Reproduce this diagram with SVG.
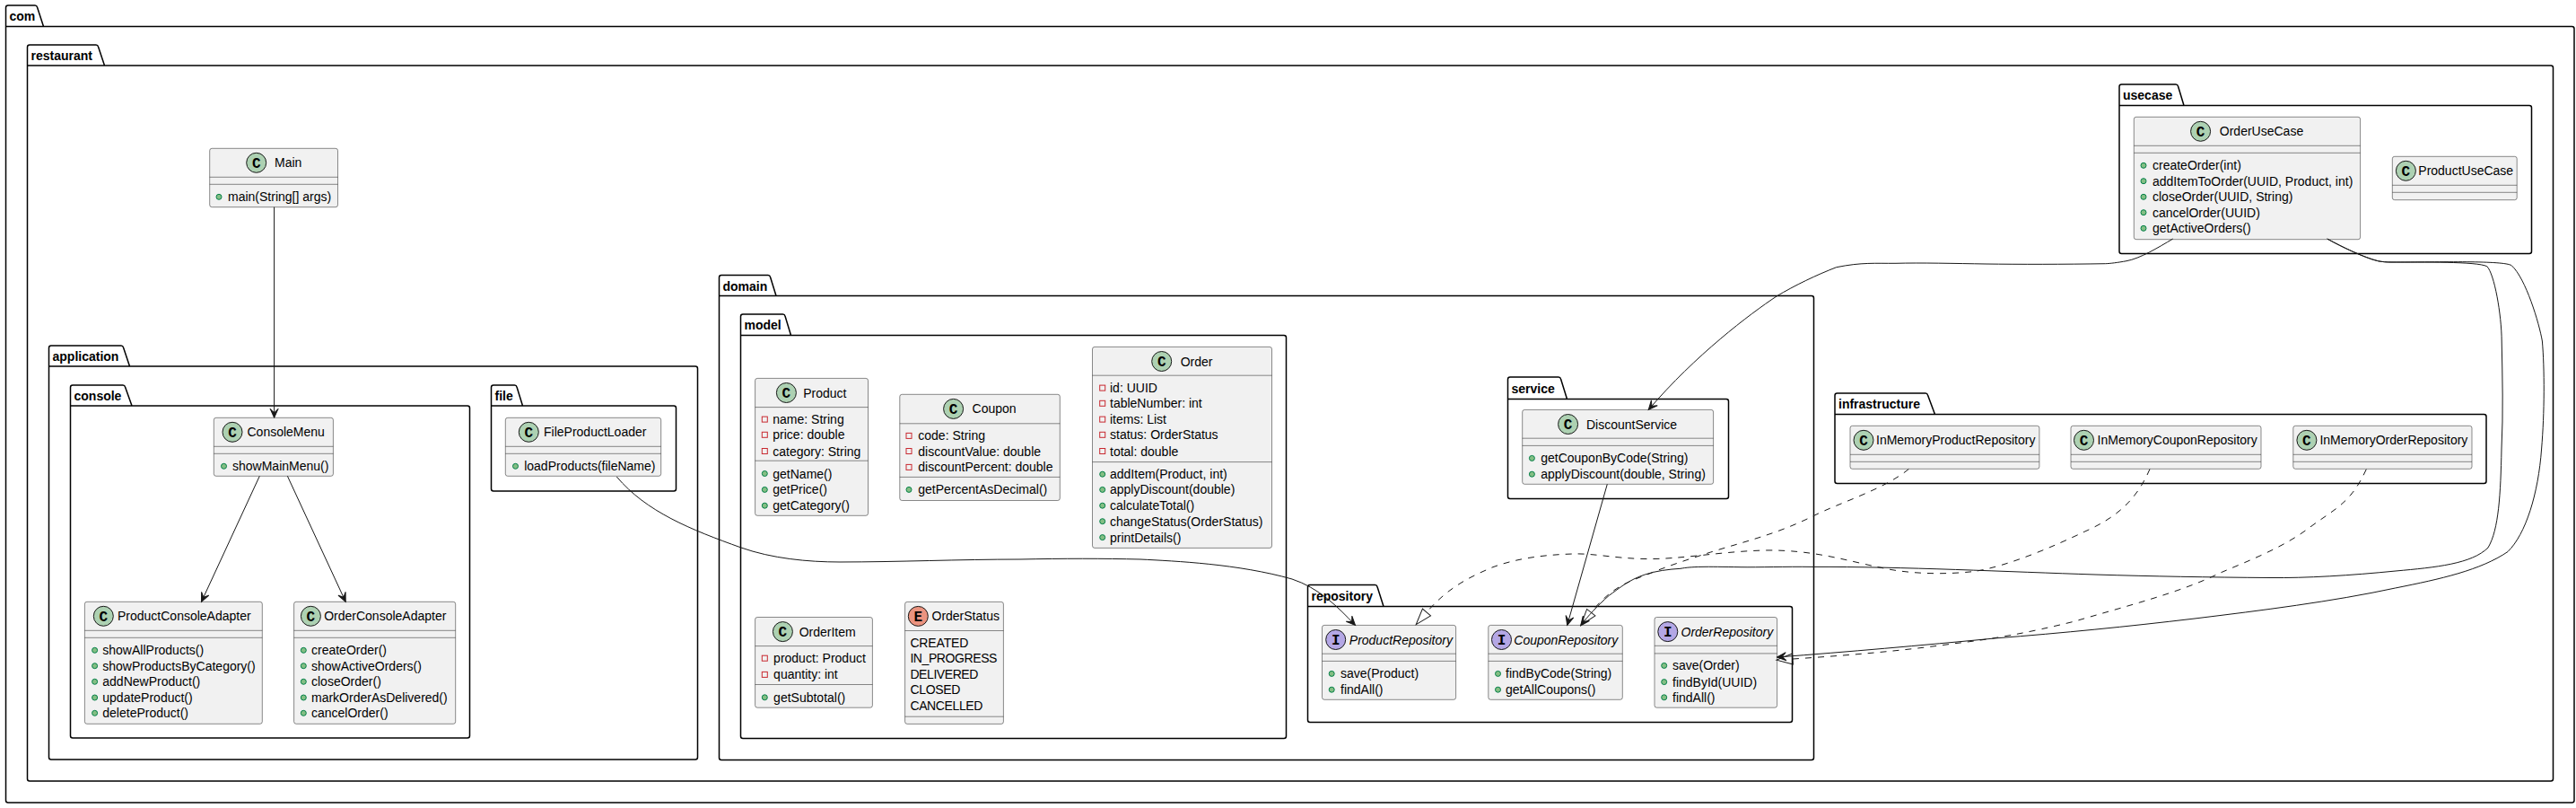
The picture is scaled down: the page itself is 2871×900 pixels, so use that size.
<svg xmlns="http://www.w3.org/2000/svg" width="2871" height="900" viewBox="0 0 2871 900">
<style>
text{font-family:"Liberation Sans",Arial,sans-serif;font-size:14px;fill:#000}
.p{fill:none;stroke:#000;stroke-width:1.5}
.pt{font-weight:700}
.b{fill:#F1F1F1;stroke:#181818;stroke-width:.5}
.s{stroke:#181818;stroke-width:.5}
.sc{fill:#ADD1B2;stroke:#181818;stroke-width:1}
.se{fill:#EB937F;stroke:#181818;stroke-width:1}
.si{fill:#B4A7E5;stroke:#181818;stroke-width:1}
.l{font-family:"Liberation Mono",monospace;font-weight:700;font-size:16px;text-anchor:middle}
.m{fill:#84BE84;stroke:#038048;stroke-width:1}
.f{fill:none;stroke:#C82930;stroke-width:1}
.i{font-style:italic}
.c{fill:none;stroke:#181818;stroke-width:1}
.d{stroke-dasharray:7,7}
.a{marker-end:url(#arrow)}
.h{marker-end:url(#tri)}
</style>
<defs>
<marker id="arrow" markerUnits="userSpaceOnUse" markerWidth="12" markerHeight="12" refX="10" refY="5" orient="auto" overflow="visible"><path d="M10,5 L0,0.5 L4.5,5 L0,9.5 Z" fill="#181818" stroke="#181818" stroke-width="1"/></marker>
<marker id="tri" markerUnits="userSpaceOnUse" markerWidth="20" markerHeight="14" refX="0" refY="6" orient="auto" overflow="visible"><path d="M0,0 L18,6 L0,12 Z" fill="none" stroke="#181818" stroke-width="1"/></marker>
</defs>
<rect width="2871" height="900" fill="#fff"/>
<g id="pkg-com"><path class="p" d="M6.5,8.5 Q6.5,6 9,6 H39 Q41,6 41.5,8 L48.5,29.5 H2866.5 Q2869,29.5 2869,32 V891.5 Q2869,894 2866.5,894 H9 Q6.5,894 6.5,891.5 Z M6.5,29.5 H48.5"/><text class="pt" x="10.5" y="23">com</text></g>
<g id="pkg-restaurant"><path class="p" d="M30.5,52.5 Q30.5,50 33,50 H107 Q109,50 109.5,52 L116.5,73 H2843 Q2845.5,73 2845.5,75.5 V867.5 Q2845.5,870 2843,870 H33 Q30.5,870 30.5,867.5 Z M30.5,73 H116.5"/><text class="pt" x="34.5" y="67">restaurant</text></g>
<g id="pkg-application"><path class="p" d="M54.5,387.5 Q54.5,385 57,385 H135 Q137,385 137.5,387 L144.5,408 H775 Q777.5,408 777.5,410.5 V843.5 Q777.5,846 775,846 H57 Q54.5,846 54.5,843.5 Z M54.5,408 H144.5"/><text class="pt" x="58.5" y="402">application</text></g>
<g id="pkg-console"><path class="p" d="M78.5,431.5 Q78.5,429 81,429 H137 Q139,429 139.5,431 L147,452 H521 Q523.5,452 523.5,454.5 V819.5 Q523.5,822 521,822 H81 Q78.5,822 78.5,819.5 Z M78.5,452 H147"/><text class="pt" x="82.5" y="446">console</text></g>
<g id="pkg-file"><path class="p" d="M547.5,431.5 Q547.5,429 550,429 H573.5 Q575.5,429 576,431 L582.5,452 H751 Q753.5,452 753.5,454.5 V544.5 Q753.5,547 751,547 H550 Q547.5,547 547.5,544.5 Z M547.5,452 H582.5"/><text class="pt" x="551.5" y="446">file</text></g>
<g id="pkg-domain"><path class="p" d="M801.5,309 Q801.5,306.5 804,306.5 H856 Q858,306.5 858.5,308.5 L865,329.5 H2019 Q2021.5,329.5 2021.5,332 V844 Q2021.5,846.5 2019,846.5 H804 Q801.5,846.5 801.5,844 Z M801.5,329.5 H865"/><text class="pt" x="805.5" y="323.5">domain</text></g>
<g id="pkg-model"><path class="p" d="M825.5,352.5 Q825.5,350 828,350 H872.5 Q874.5,350 875,352 L881.5,373.5 H1431 Q1433.5,373.5 1433.5,376 V820 Q1433.5,822.5 1431,822.5 H828 Q825.5,822.5 825.5,820 Z M825.5,373.5 H881.5"/><text class="pt" x="829.5" y="367">model</text></g>
<g id="pkg-service"><path class="p" d="M1680.5,422.5 Q1680.5,420 1683,420 H1737 Q1739,420 1739.5,422 L1746.5,444.5 H1924 Q1926.5,444.5 1926.5,447 V553 Q1926.5,555.5 1924,555.5 H1683 Q1680.5,555.5 1680.5,553 Z M1680.5,444.5 H1746.5"/><text class="pt" x="1684.5" y="437.5">service</text></g>
<g id="pkg-repository"><path class="p" d="M1457.5,654 Q1457.5,651.5 1460,651.5 H1532.5 Q1534.5,651.5 1535,653.5 L1542,675.5 H1995 Q1997.5,675.5 1997.5,678 V802 Q1997.5,804.5 1995,804.5 H1460 Q1457.5,804.5 1457.5,802 Z M1457.5,675.5 H1542"/><text class="pt" x="1461.5" y="669">repository</text></g>
<g id="pkg-usecase"><path class="p" d="M2362,96.5 Q2362,94 2364.5,94 H2425 Q2427,94 2427.5,96 L2434,117.5 H2819 Q2821.5,117.5 2821.5,120 V280 Q2821.5,282.5 2819,282.5 H2364.5 Q2362,282.5 2362,280 Z M2362,117.5 H2434"/><text class="pt" x="2366" y="111">usecase</text></g>
<g id="pkg-infrastructure"><path class="p" d="M2045,440.5 Q2045,438 2047.5,438 H2146 Q2148,438 2148.5,440 L2156.5,461.5 H2768.5 Q2771,461.5 2771,464 V536 Q2771,538.5 2768.5,538.5 H2047.5 Q2045,538.5 2045,536 Z M2045,461.5 H2156.5"/><text class="pt" x="2049" y="455">infrastructure</text></g>

<g id="Main"><rect class="b" x="233.7" y="165.3" width="142.8" height="65.4" rx="2.5"/><path class="s" d="M233.7,197.3 H376.5 M233.7,205.3 H376.5"/><circle class="sc" cx="285.7" cy="181.3" r="11"/><text class="l" x="285.7" y="186.5">C</text><text x="306" y="186">Main</text><circle class="m" cx="244" cy="219.3" r="3"/><text x="254" y="224.3">main(String[] args)</text></g>
<g id="ConsoleMenu"><rect class="b" x="238.3" y="465.3" width="133.1" height="65" rx="2.5"/><path class="s" d="M238.3,497.3 H371.4 M238.3,505.3 H371.4"/><circle class="sc" cx="259" cy="481.3" r="11"/><text class="l" x="259" y="486.5">C</text><text x="275.5" y="486">ConsoleMenu</text><circle class="m" cx="249.5" cy="519.3" r="3"/><text x="259" y="524.3">showMainMenu()</text></g>
<g id="ProductConsoleAdapter"><rect class="b" x="94.4" y="670.3" width="197.9" height="136" rx="2.5"/><path class="s" d="M94.4,702.3 H292.3 M94.4,710.3 H292.3"/><circle class="sc" cx="115.3" cy="686.3" r="11"/><text class="l" x="115.3" y="691.5">C</text><text x="131" y="691">ProductConsoleAdapter</text>
<circle class="m" cx="105.6" cy="724.3" r="3"/><text x="114.3" y="729.3">showAllProducts()</text><circle class="m" cx="105.6" cy="741.7" r="3"/><text x="114.3" y="746.7">showProductsByCategory()</text><circle class="m" cx="105.6" cy="759.3" r="3"/><text x="114.3" y="764.3">addNewProduct()</text><circle class="m" cx="105.6" cy="777" r="3"/><text x="114.3" y="782">updateProduct()</text><circle class="m" cx="105.6" cy="794.3" r="3"/><text x="114.3" y="799.3">deleteProduct()</text></g>
<g id="OrderConsoleAdapter"><rect class="b" x="327.6" y="670.3" width="180.1" height="136" rx="2.5"/><path class="s" d="M327.6,702.3 H507.7 M327.6,710.3 H507.7"/><circle class="sc" cx="346.4" cy="686.3" r="11"/><text class="l" x="346.4" y="691.5">C</text><text x="361.2" y="691">OrderConsoleAdapter</text>
<circle class="m" cx="338.3" cy="724.3" r="3"/><text x="347" y="729.3">createOrder()</text><circle class="m" cx="338.3" cy="741.7" r="3"/><text x="347" y="746.7">showActiveOrders()</text><circle class="m" cx="338.3" cy="759.3" r="3"/><text x="347" y="764.3">closeOrder()</text><circle class="m" cx="338.3" cy="777" r="3"/><text x="347" y="782">markOrderAsDelivered()</text><circle class="m" cx="338.3" cy="794.3" r="3"/><text x="347" y="799.3">cancelOrder()</text></g>
<g id="FileProductLoader"><rect class="b" x="563.3" y="465.3" width="173.4" height="65" rx="2.5"/><path class="s" d="M563.3,497.3 H736.7 M563.3,505.3 H736.7"/><circle class="sc" cx="589.3" cy="481.3" r="11"/><text class="l" x="589.3" y="486.5">C</text><text x="606" y="486">FileProductLoader</text><circle class="m" cx="574.5" cy="519.3" r="3"/><text x="584.2" y="524.3">loadProducts(fileName)</text></g>

<g id="Product"><rect class="b" x="841.6" y="421.4" width="125.9" height="152.9" rx="2.5"/><path class="s" d="M841.6,453.6 H967.5 M841.6,513.2 H967.5"/><circle class="sc" cx="876.4" cy="437.5" r="11"/><text class="l" x="876.4" y="442.7">C</text><text x="895.2" y="442.5">Product</text>
<rect class="f" x="849.3" y="464.1" width="6" height="6"/><text x="861.3" y="472.1">name: String</text><rect class="f" x="849.3" y="481.3" width="6" height="6"/><text x="861.3" y="489.3">price: double</text><rect class="f" x="849.3" y="499.5" width="6" height="6"/><text x="861.3" y="507.5">category: String</text>
<circle class="m" cx="852.3" cy="527.5" r="3"/><text x="861.3" y="532.5">getName()</text><circle class="m" cx="852.3" cy="545.4" r="3"/><text x="861.3" y="550.4">getPrice()</text><circle class="m" cx="852.3" cy="563.2" r="3"/><text x="861.3" y="568.2">getCategory()</text></g>
<g id="Coupon"><rect class="b" x="1002.8" y="439.3" width="178.5" height="118.2" rx="2.5"/><path class="s" d="M1002.8,471.8 H1181.3 M1002.8,531.4 H1181.3"/><circle class="sc" cx="1062.6" cy="455.4" r="11"/><text class="l" x="1062.6" y="460.6">C</text><text x="1083.6" y="460.4">Coupon</text>
<rect class="f" x="1010" y="482.4" width="6" height="6"/><text x="1023.3" y="490.4">code: String</text><rect class="f" x="1010" y="499.5" width="6" height="6"/><text x="1023.3" y="507.5">discountValue: double</text><rect class="f" x="1010" y="517.4" width="6" height="6"/><text x="1023.3" y="525.4">discountPercent: double</text>
<circle class="m" cx="1013" cy="545.4" r="3"/><text x="1023.3" y="550.4">getPercentAsDecimal()</text></g>
<g id="Order"><rect class="b" x="1217.5" y="386.4" width="200" height="224" rx="2.5"/><path class="s" d="M1217.5,418.2 H1417.5 M1217.5,514.6 H1417.5"/><circle class="sc" cx="1294.7" cy="402.5" r="11"/><text class="l" x="1294.7" y="407.7">C</text><text x="1315.7" y="407.5">Order</text>
<rect class="f" x="1225.7" y="429.1" width="6" height="6"/><text x="1237" y="437.1">id: UUID</text><rect class="f" x="1225.7" y="446.3" width="6" height="6"/><text x="1237" y="454.3">tableNumber: int</text><rect class="f" x="1225.7" y="464.1" width="6" height="6"/><text x="1237" y="472.1">items: List</text><rect class="f" x="1225.7" y="481.3" width="6" height="6"/><text x="1237" y="489.3">status: OrderStatus</text><rect class="f" x="1225.7" y="499.5" width="6" height="6"/><text x="1237" y="507.5">total: double</text>
<circle class="m" cx="1228.7" cy="528.2" r="3"/><text x="1237" y="533.2">addItem(Product, int)</text><circle class="m" cx="1228.7" cy="545.4" r="3"/><text x="1237" y="550.4">applyDiscount(double)</text><circle class="m" cx="1228.7" cy="563.2" r="3"/><text x="1237" y="568.2">calculateTotal()</text><circle class="m" cx="1228.7" cy="580.7" r="3"/><text x="1237" y="585.7">changeStatus(OrderStatus)</text><circle class="m" cx="1228.7" cy="598.6" r="3"/><text x="1237" y="603.6">printDetails()</text></g>
<g id="OrderItem"><rect class="b" x="841.6" y="687.5" width="130.8" height="100.7" rx="2.5"/><path class="s" d="M841.6,719.6 H972.4 M841.6,762.5 H972.4"/><circle class="sc" cx="872.4" cy="703.6" r="11"/><text class="l" x="872.4" y="708.8">C</text><text x="890.7" y="708.6">OrderItem</text>
<rect class="f" x="849.3" y="730.2" width="6" height="6"/><text x="862.1" y="738.2">product: Product</text><rect class="f" x="849.3" y="748.4" width="6" height="6"/><text x="862.1" y="756.4">quantity: int</text><circle class="m" cx="852.3" cy="776.8" r="3"/><text x="862.1" y="781.8">getSubtotal()</text></g>
<g id="OrderStatus"><rect class="b" x="1008.6" y="670.4" width="109.8" height="136" rx="2.5"/><path class="s" d="M1008.6,702.5 H1118.4 M1008.6,798.2 H1118.4"/><circle class="se" cx="1023.3" cy="686.4" r="11"/><text class="l" x="1023.3" y="691.6">E</text><text x="1038.5" y="691.4">OrderStatus</text>
<text x="1014.4" y="721" textLength="65">CREATED</text><text x="1014.4" y="738.2" textLength="97">IN_PROGRESS</text><text x="1014.4" y="756.4" textLength="76">DELIVERED</text><text x="1014.4" y="773.2" textLength="56">CLOSED</text><text x="1014.4" y="791" textLength="81">CANCELLED</text></g>

<g id="DiscountService"><rect class="b" x="1696.7" y="456.4" width="212.9" height="82.9" rx="2.5"/><path class="s" d="M1696.7,488.2 H1909.6 M1696.7,496.4 H1909.6"/><circle class="sc" cx="1747.6" cy="472.5" r="11"/><text class="l" x="1747.6" y="477.7">C</text><text x="1768" y="477.5">DiscountService</text><circle class="m" cx="1707.4" cy="510.4" r="3"/><text x="1717.2" y="515.4">getCouponByCode(String)</text><circle class="m" cx="1707.4" cy="528.2" r="3"/><text x="1717.2" y="533.2">applyDiscount(double, String)</text></g>
<g id="ProductRepository"><rect class="b" x="1473.5" y="696.4" width="149.1" height="82.9" rx="2.5"/><path class="s" d="M1473.5,728.2 H1622.6 M1473.5,736.4 H1622.6"/><circle class="si" cx="1488.7" cy="712.5" r="11"/><text class="l" x="1488.7" y="717.7">I</text><text class="i" x="1503.8" y="717.5">ProductRepository</text><circle class="m" cx="1484.2" cy="750.4" r="3"/><text x="1494" y="755.4">save(Product)</text><circle class="m" cx="1484.2" cy="768.2" r="3"/><text x="1494" y="773.2">findAll()</text></g>
<g id="CouponRepository"><rect class="b" x="1658.8" y="696.4" width="149.5" height="82.9" rx="2.5"/><path class="s" d="M1658.8,728.2 H1808.3 M1658.8,736.4 H1808.3"/><circle class="si" cx="1673.5" cy="712.5" r="11"/><text class="l" x="1673.5" y="717.7">I</text><text class="i" x="1687.3" y="717.5">CouponRepository</text><circle class="m" cx="1669.5" cy="750.4" r="3"/><text x="1678" y="755.4">findByCode(String)</text><circle class="m" cx="1669.5" cy="768.2" r="3"/><text x="1678" y="773.2">getAllCoupons()</text></g>
<g id="OrderRepository"><rect class="b" x="1844" y="687.5" width="136.6" height="100.7" rx="2.5"/><path class="s" d="M1844,719.3 H1980.6 M1844,727.9 H1980.6"/><circle class="si" cx="1858.8" cy="703.6" r="11"/><text class="l" x="1858.8" y="708.8">I</text><text class="i" x="1873.5" y="708.6">OrderRepository</text><circle class="m" cx="1854.7" cy="741.4" r="3"/><text x="1864" y="746.4">save(Order)</text><circle class="m" cx="1854.7" cy="759.6" r="3"/><text x="1864" y="764.6">findById(UUID)</text><circle class="m" cx="1854.7" cy="776.8" r="3"/><text x="1864" y="781.8">findAll()</text></g>

<g id="OrderUseCase"><rect class="b" x="2378.3" y="130.3" width="252.3" height="136.4" rx="2.5"/><path class="s" d="M2378.3,162.3 H2630.6 M2378.3,170.3 H2630.6"/><circle class="sc" cx="2452.6" cy="146.3" r="11"/><text class="l" x="2452.6" y="151.5">C</text><text x="2473.8" y="151.3">OrderUseCase</text>
<circle class="m" cx="2389" cy="184.3" r="3"/><text x="2399" y="189.3">createOrder(int)</text><circle class="m" cx="2389" cy="201.7" r="3"/><text x="2399" y="206.7">addItemToOrder(UUID, Product, int)</text><circle class="m" cx="2389" cy="219.3" r="3"/><text x="2399" y="224.3">closeOrder(UUID, String)</text><circle class="m" cx="2389" cy="236.7" r="3"/><text x="2399" y="241.7">cancelOrder(UUID)</text><circle class="m" cx="2389" cy="254.3" r="3"/><text x="2399" y="259.3">getActiveOrders()</text></g>
<g id="ProductUseCase"><rect class="b" x="2666.3" y="174.3" width="138.9" height="48.4" rx="2.5"/><path class="s" d="M2666.3,206.3 H2805.2 M2666.3,214.3 H2805.2"/><circle class="sc" cx="2681.4" cy="190.3" r="11"/><text class="l" x="2681.4" y="195.5">C</text><text x="2695.3" y="195.3">ProductUseCase</text></g>
<g id="InMemoryProductRepository"><rect class="b" x="2062" y="474.3" width="210.9" height="48" rx="2.5"/><path class="s" d="M2062,506.3 H2272.9 M2062,514.3 H2272.9"/><circle class="sc" cx="2077" cy="490.3" r="11"/><text class="l" x="2077" y="495.5">C</text><text x="2091" y="495.3">InMemoryProductRepository</text></g>
<g id="InMemoryCouponRepository"><rect class="b" x="2308" y="474.3" width="212" height="48" rx="2.5"/><path class="s" d="M2308,506.3 H2520 M2308,514.3 H2520"/><circle class="sc" cx="2322.5" cy="490.3" r="11"/><text class="l" x="2322.5" y="495.5">C</text><text x="2337.6" y="495.3">InMemoryCouponRepository</text></g>
<g id="InMemoryOrderRepository"><rect class="b" x="2555.8" y="474.3" width="199.2" height="48" rx="2.5"/><path class="s" d="M2555.8,506.3 H2755 M2555.8,514.3 H2755"/><circle class="sc" cx="2570.9" cy="490.3" r="11"/><text class="l" x="2570.9" y="495.5">C</text><text x="2585.4" y="495.3">InMemoryOrderRepository</text></g>

<g id="connectors">
<path class="c a" d="M305.6,230.7 V465.3"/>
<path class="c a" d="M289.3,530.3 L224.5,670.3"/>
<path class="c a" d="M320.4,530.3 L385.2,670.3"/>
<path class="c a" d="M687.3,531 C720,570 770,590 826,610 C860,622 900,626 936,626 C1000,626 1070,623 1137,623 C1185,622 1230,622 1271,623 C1310,625 1380,628 1440,645 C1470,655 1490,675 1510.5,696.4"/>
<path class="c a" d="M2421.7,266 C2405,276 2385,288 2370,290.7 C2360,292.5 2352,293.5 2346.7,293.7 C2300,294.5 2250,294.5 2213,294 C2180,293.5 2140,292.5 2113,293.3 C2090,293.5 2075,292 2046.7,297.7 C2025,306 2000,318 1980,330 C1950,350 1890,395 1837.3,456.4"/>
<path class="c a" d="M1791.3,539.3 L1746.7,696.4"/>
<path class="c a" d="M2593.7,266 C2610,275 2635,287 2650.2,290.7 C2655,291.7 2660,292 2665,292 C2700,292.3 2760,291 2771.8,296.7 C2780,305 2788,350 2788.2,380 C2789,420 2790,460 2788,500 C2787,550 2785,590 2773,610 C2755,628 2715,632 2670,636 C2620,641 2570,644 2530,643.5 C2460,643 2400,642 2335,640 C2240,637 2120,631 2020,631.4 C1990,631 1960,632 1940,631.7 C1900,631 1885,631 1873,633.3 C1860,634 1845,636 1833.3,640 C1815,646 1805,655 1793.3,663.3 C1780,675 1770,686 1761.7,696.7"/>
<path class="c a" d="M2593.7,266 C2610,275 2635,287 2650.2,290.7 C2655,291.7 2660,292 2665,292 C2720,292 2790,290 2799.2,295.7 C2815,310 2830,360 2833.4,380 C2836,410 2836,460 2832.6,500 C2829,550 2815,595 2795,614.5 C2765,635 2720,645 2669.6,655 C2600,670 2520,680 2446,689 C2370,698 2300,705 2223,711 C2140,719 2060,726 1980.6,732"/>
<path class="c d h" d="M2127.3,522.5 C2100,545 2050,560 2020.4,575 C1980,595 1945,603 1906.7,615 C1885,622 1860,630 1840,638.3 C1815,648 1796.5,653.2 1773.3,682.2"/>
<path class="c d h" d="M2396,522.5 C2380,560 2355,578 2323.7,592 C2290,608 2240,630 2201,636.4 C2170,640 2130,640 2095,632 C2060,625 2020,612 1966.8,613 C1920,614 1870,623.5 1833,622.5 C1800,622 1775,616 1752.5,617 C1720,618 1690,622 1663,632 C1640,642 1615,653 1590,682"/>
<path class="c d h" d="M2637.3,522.7 C2620,560 2605,565 2574.8,587 C2545,610 2505,625 2474,638.3 C2430,660 2370,675 2312.5,692 C2260,705 2220,712 2178.6,716.7 C2120,725 2060,730 1998,734"/>
</g>
</svg>
